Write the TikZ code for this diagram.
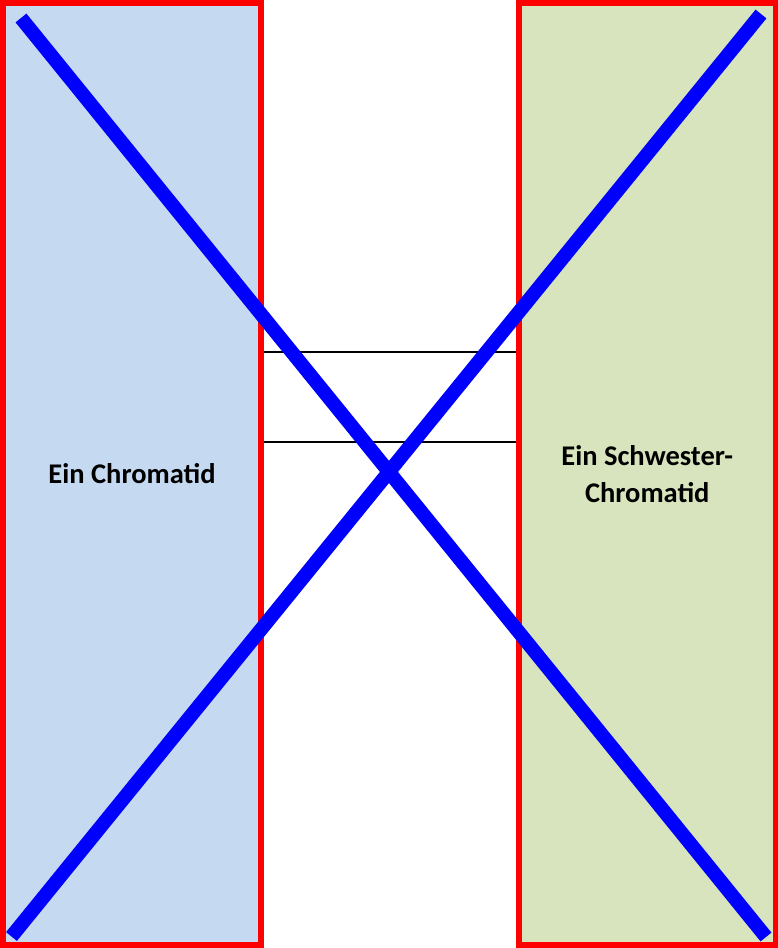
\documentclass[tikz,border=0pt]{standalone}
\usepackage{fontspec}
\setmainfont{Carlito}
\definecolor{chromblue}{HTML}{C5D9F1}
\definecolor{chromgreen}{HTML}{D7E4BD}
\definecolor{crossblue}{HTML}{0000FF}
\definecolor{borderred}{HTML}{FF0000}
\begin{document}
\begin{tikzpicture}[x=1pt,y=-1pt,
  chromatid/.style={draw=borderred, line width=6pt, inner sep=0pt, outer sep=0pt,
    minimum height=942pt, font=\bfseries\fontsize{28.5}{37}\selectfont, align=center},
  crossline/.style={draw=crossblue, line width=14pt, line cap=butt},
  bridge/.style={draw=black, line width=2pt}]
\useasboundingbox (0,0) rectangle (778,948);
\node[chromatid, fill=chromblue, minimum width=258pt] (left) at (132,474) {Ein Chromatid};
\node[chromatid, fill=chromgreen, minimum width=256.5pt] (right) at (647.25,474) {Ein Schwester-\\Chromatid};
\coordinate (b1l) at (264,351.5);
\coordinate (b1r) at (516,351.5);
\coordinate (b2l) at (264,441.5);
\coordinate (b2r) at (516,441.5);
\draw[bridge] (b1l) -- (b1r);
\draw[bridge] (b2l) -- (b2r);
\coordinate (tl) at (21,18);
\coordinate (br) at (766,937);
\coordinate (tr) at (761,14);
\coordinate (bl) at (11.5,936.5);
\draw[crossline] (tl) -- (br);
\draw[crossline] (tr) -- (bl);
\end{tikzpicture}
\end{document}
